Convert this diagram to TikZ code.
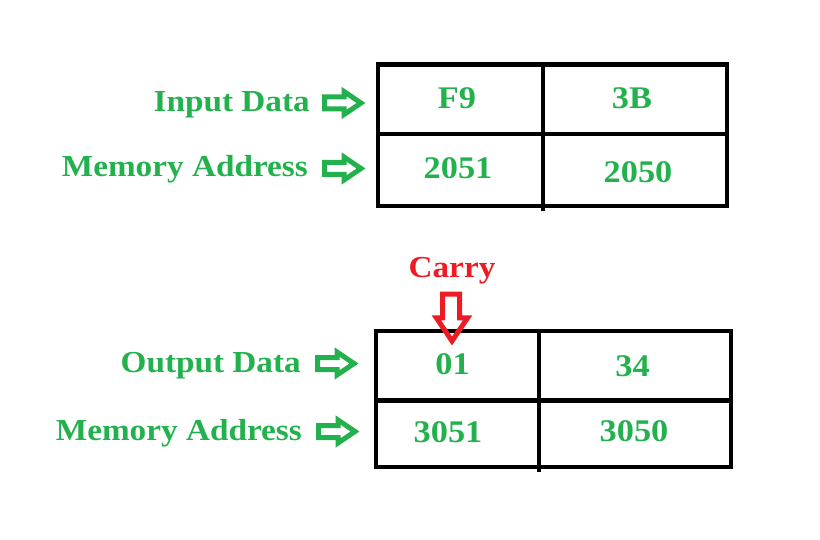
\documentclass[tikz,border=0pt]{standalone}
\usepackage{fontspec}
\usepackage{graphicx}
\setmainfont{Liberation Serif}
\definecolor{pgreen}{HTML}{22B14C}
\definecolor{pred}{HTML}{ED1C24}
\newcommand{\sxw}[1]{\scalebox{1.09}[1]{#1}}
\tikzset{
  lbl/.style={text=pgreen, font=\fontsize{30.5}{36}\selectfont\bfseries, anchor=base east, inner sep=0pt},
  val/.style={text=pgreen, font=\fontsize{31.5}{38}\selectfont\bfseries, anchor=base, inner sep=0pt},
  tab/.style={line width=4.6pt, black},
  garrow/.pic={\draw[pgreen, line width=5pt, line join=miter, miter limit=10]
     (2.5,-6) -- (22,-6) -- (22,-11.5) -- (39,0) -- (22,11.5) -- (22,6) -- (2.5,6) -- cycle;},
}
\begin{document}
\begin{tikzpicture}[x=1pt,y=-1pt]
\useasboundingbox (0,0) rectangle (820,540);
% top table
\coordinate (t1) at (378,64.5);
\coordinate (t2) at (727,206);
\draw[tab] (t1) rectangle (t2);
\draw[tab] (378,134) -- (727,134);
\draw[tab] (543,64.5) -- (543,211);
% bottom table
\coordinate (b1) at (376,331);
\coordinate (b2) at (731,467);
\draw[tab] (b1) rectangle (b2);
\draw[tab] (376,400.5) -- (731,400.5);
\draw[tab] (539,331) -- (539,472);
% labels
\node[lbl] (l1) at (310,112) {\sxw{Input Data}};
\node[lbl] (l2) at (308,176.5) {\sxw{Memory Address}};
\node[lbl] (l3) at (301,372) {\sxw{Output Data}};
\node[lbl] (l4) at (302,440) {\sxw{Memory Address}};
% arrows
\pic (a1) at (322,103) {garrow};
\pic (a2) at (322,168.5) {garrow};
\pic (a3) at (315,363.5) {garrow};
\pic (a4) at (316,431.5) {garrow};
% values
\node[val] (v1) at (457,109) {\sxw{F9}};
\node[val] (v2) at (632,109) {\sxw{3B}};
\node[val] (v3) at (458,179) {\sxw{2051}};
\node[val] (v4) at (638,182.5) {\sxw{2050}};
\node[val] (v5) at (452.5,374) {\sxw{01}};
\node[val] (v6) at (632.5,376) {\sxw{34}};
\node[val] (v7) at (448,442) {\sxw{3051}};
\node[val] (v8) at (634,441.5) {\sxw{3050}};
% carry
\node[text=pred, font=\fontsize{30.5}{36}\selectfont\bfseries, anchor=base, inner sep=0pt] (carry) at (452,278) {\sxw{Carry}};
\draw[pred, line width=5pt, line join=miter, miter limit=10]
  (442.5,294.2) -- (459.5,294.2) -- (459.5,318) -- (467.5,318) -- (452,341) -- (436.5,318) -- (442.5,318) -- cycle;
\end{tikzpicture}
\end{document}
